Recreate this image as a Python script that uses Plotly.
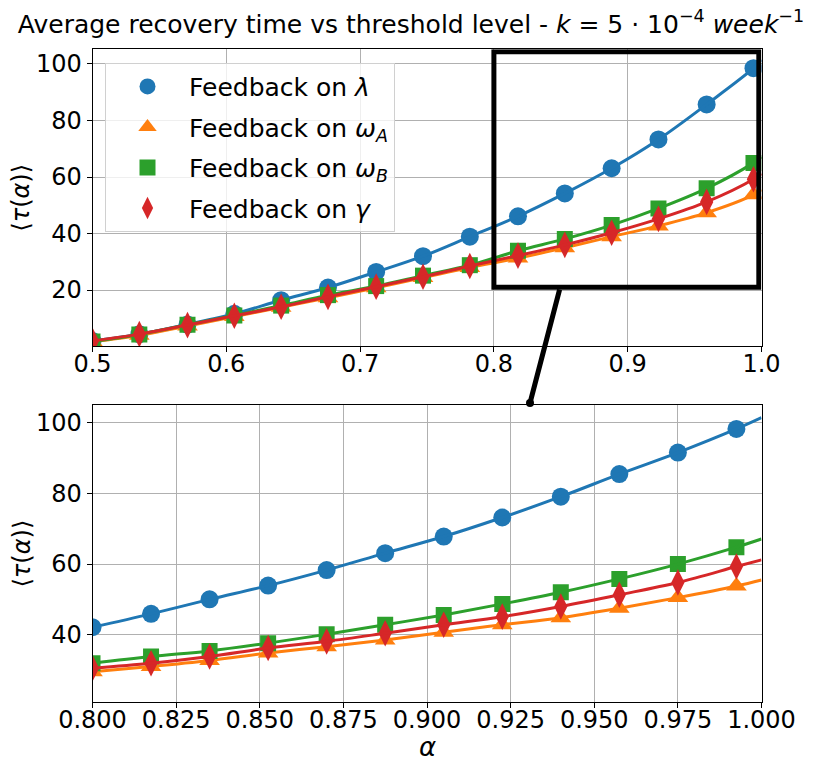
import plotly.graph_objects as go

# alpha values (threshold level) and mean recovery time
alpha_top = [0.5, 0.535, 0.571, 0.606, 0.641, 0.676, 0.712, 0.747, 0.782,
             0.818, 0.853, 0.888, 0.923, 0.959, 0.994]
tau_lambda_top = [2.0, 4.4, 7.8, 11.6, 16.4, 20.9, 26.4, 32.0, 38.9,
                  46.1, 54.2, 63.1, 73.3, 85.7, 98.5]
tau_omega_a_top = [1.7, 4.0, 7.3, 10.6, 13.9, 17.3, 20.8, 24.4, 28.0,
                   31.3, 35.0, 38.9, 42.7, 47.4, 53.7]
tau_omega_b_top = [1.8, 4.3, 7.7, 11.0, 14.5, 18.2, 21.4, 25.1, 28.8,
                   33.9, 38.1, 43.0, 48.9, 56.0, 65.0]
tau_gamma_top = [2.0, 4.4, 7.6, 10.9, 14.1, 17.6, 21.2, 24.7, 28.5,
                 32.2, 36.0, 40.3, 45.2, 51.2, 59.2]

alpha_zoom = [0.8, 0.8175, 0.835, 0.8525, 0.87, 0.8875, 0.905, 0.9225,
              0.94, 0.9575, 0.975, 0.9925]
tau_lambda_zoom = [42.1, 45.9, 50.0, 53.9, 58.3, 63.1, 67.8, 73.2, 79.1, 85.5, 91.6, 98.3]
tau_omega_a_zoom = [29.5, 31.0, 32.7, 34.8, 36.6, 38.5, 40.7, 42.8, 44.8, 47.5, 50.5, 53.8]
tau_omega_b_zoom = [31.9, 33.8, 35.4, 37.6, 40.1, 42.8, 45.6, 48.7, 52.0, 55.8, 60.0, 64.8]
tau_gamma_zoom = [30.5, 31.9, 33.8, 36.2, 38.1, 40.4, 42.8, 45.1, 48.0, 51.3, 54.8, 59.3]

# fitted curves reach alpha = 1.0
alpha_end = 1.0
tau_end = [101.5, 55.5, 67.1, 61.2]

names = ["Feedback on <i>λ</i>", "Feedback on <i>ω</i><sub><i>A</i></sub>",
         "Feedback on <i>ω</i><sub><i>B</i></sub>", "Feedback on <i>γ</i>"]
colors = ["#1f77b4", "#ff7f0e", "#2ca02c", "#d62728"]
symbols = ["circle", "triangle-up", "square", "diamond-tall"]
sizes = [18, 18, 16, 19]

top_series = [tau_lambda_top, tau_omega_a_top, tau_omega_b_top, tau_gamma_top]
zoom_series = [tau_lambda_zoom, tau_omega_a_zoom, tau_omega_b_zoom, tau_gamma_zoom]

FONT = "DejaVu Sans"
W, H = 813, 770
OFF = 8  # the page body adds an 8px margin, so place everything 8px up/left


def px(x):
    return (x - OFF) / W


def py(y):
    return 1 - (y - OFF) / H


fig = go.Figure()
for i in range(4):
    for xs, ys, xa, ya, legend in [(alpha_top, top_series[i], "x", "y", True),
                                   (alpha_zoom, zoom_series[i], "x2", "y2", False)]:
        fig.add_trace(go.Scatter(
            x=xs, y=ys, mode="markers", name=names[i], showlegend=legend,
            legendgroup=str(i), xaxis=xa, yaxis=ya,
            marker=dict(color=colors[i], symbol=symbols[i], size=sizes[i], line=dict(width=0))))
        fig.add_trace(go.Scatter(
            x=xs + [alpha_end], y=ys + [tau_end[i]], mode="lines", showlegend=False,
            xaxis=xa, yaxis=ya, line=dict(color=colors[i], width=3, shape="spline"),
            hoverinfo="skip"))

axis_style = dict(showline=True, linecolor="black", linewidth=1, mirror=True,
                  ticks="outside", ticklen=5, tickcolor="black", showgrid=True,
                  gridcolor="#b0b0b0", gridwidth=1, zeroline=False, automargin=False,
                  tickfont=dict(size=24, color="black", family=FONT))

xdom = [px(92.5), px(761.5)]
fig.update_layout(
    width=W, height=H,
    margin=dict(l=0, r=0, t=0, b=0, autoexpand=False),
    plot_bgcolor="white", paper_bgcolor="white",
    font=dict(family=FONT, color="black"),
    title=dict(text="Average recovery time vs threshold level - <i>k</i> = 5 · 10<sup>−4</sup> <i>week</i><sup>−1</sup>",
               x=px(411), xanchor="center", y=py(24), yanchor="middle",
               font=dict(size=25, family=FONT, color="black")),
    xaxis=dict(domain=xdom, range=[0.5, 1.0], dtick=0.1, tickformat=".1f",
               anchor="y", ticklabelstandoff=-9, **axis_style),
    yaxis=dict(domain=[py(346), py(49.3)], range=[0.2, 105.2], tickvals=[20, 40, 60, 80, 100],
               anchor="x", **axis_style),
    xaxis2=dict(domain=xdom, range=[0.8, 1.0], dtick=0.025, tickformat=".3f",
                anchor="y2", ticklabelstandoff=-9, **axis_style),
    yaxis2=dict(domain=[py(701.7), py(405.3)], range=[21, 105], tickvals=[40, 60, 80, 100],
                anchor="x2", **axis_style),
    legend=dict(x=px(105), y=py(62.7), xanchor="left", yanchor="top",
                bgcolor="rgba(255,255,255,0.8)", bordercolor="#d0d0d0", borderwidth=1,
                font=dict(size=25, family=FONT, color="black"),
                itemwidth=73, tracegroupgap=5),
    showlegend=True,
)

# zoom box on the top panel, matching the lower panel's range
fig.add_shape(type="rect", xref="x", yref="y", x0=0.8, x1=0.998, y0=21, y1=104.3,
              line=dict(color="black", width=5))

# arrow from the zoom box to the lower panel
fig.add_annotation(x=px(530), y=py(403), ax=30, ay=-115, xref="paper", yref="paper",
                   axref="pixel", ayref="pixel", text="", showarrow=True,
                   arrowhead=6, arrowsize=0.4, arrowwidth=5, arrowcolor="black")

ylabel = "⟨<i>τ</i>(<i>α</i>)⟩"
for yc in [197.7, 553.5]:
    fig.add_annotation(x=px(21), y=py(yc), xref="paper", yref="paper", text=ylabel,
                       xanchor="center", yanchor="middle",
                       textangle=-90, showarrow=False, font=dict(size=24, family=FONT))
fig.add_annotation(x=px(427), y=py(747), xref="paper", yref="paper", text="<i>α</i>",
                   xanchor="center", yanchor="middle",
                   showarrow=False, font=dict(size=26, family=FONT))

fig.write_html("out.html")
